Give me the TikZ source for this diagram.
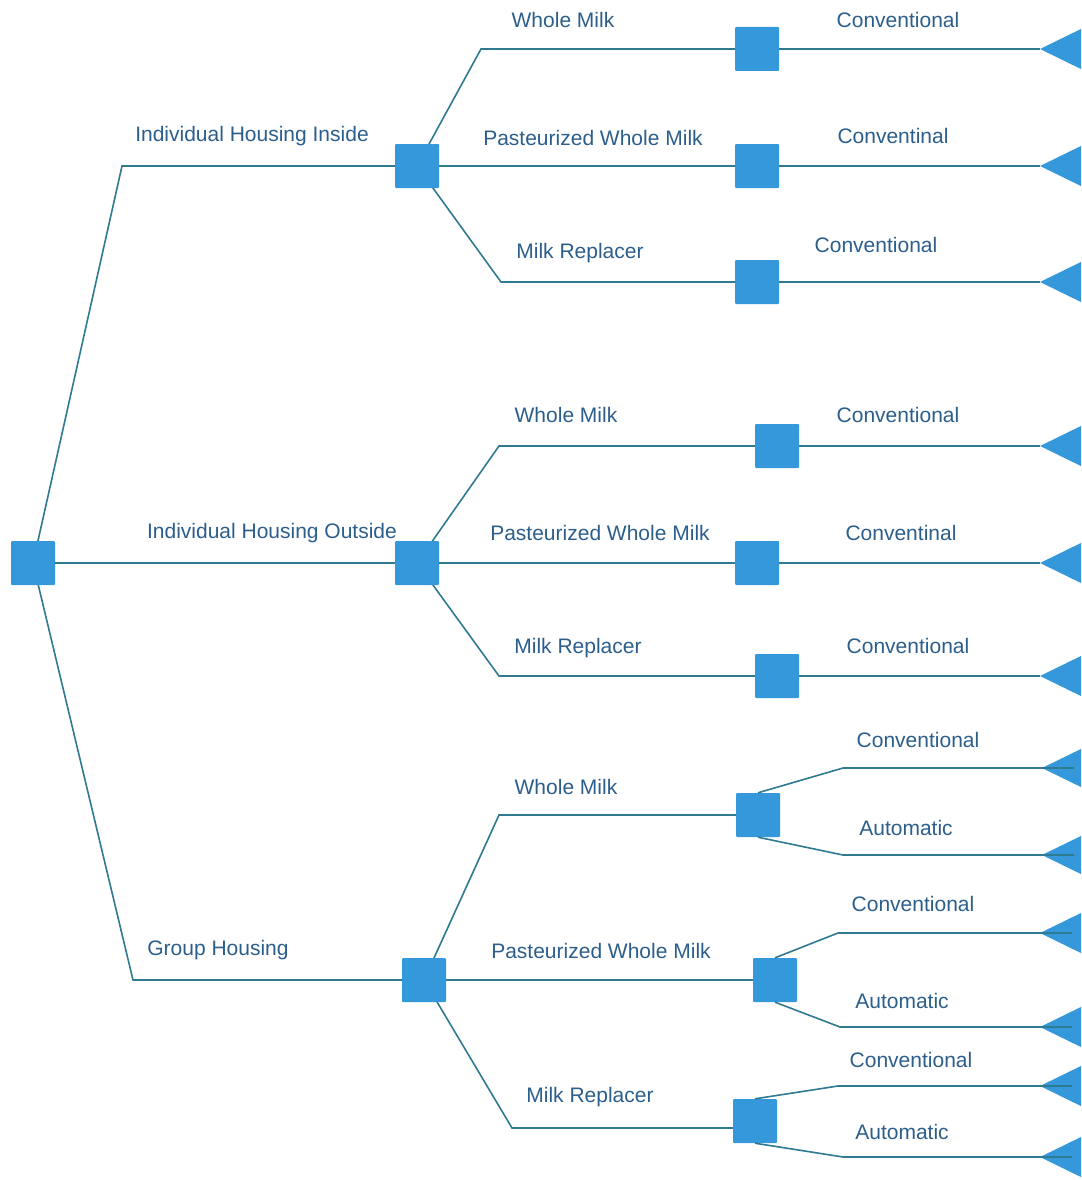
\documentclass[tikz,border=0pt]{standalone}
\usepackage{fontspec}
\setmainfont{Liberation Sans}
\usetikzlibrary{backgrounds}
\definecolor{boxblue}{RGB}{52,152,219}
\definecolor{linecol}{RGB}{47,122,145}
\definecolor{txtcol}{RGB}{44,94,140}
\tikzset{
  decbox/.style={draw=none,fill=boxblue,minimum size=44pt,inner sep=0pt,rounded corners=1pt},
  conn/.style={draw=linecol,line width=1.6pt},
  lbl/.style={text=txtcol,font=\fontsize{21}{25}\selectfont,inner sep=0pt},
  termtri/.style={fill=boxblue}
}
\begin{document}
\begin{tikzpicture}[x=1pt,y=1pt]
\useasboundingbox (0,0) rectangle (1081,-1180);
\clip (0,0) rectangle (1081,-1180);
% decision squares
\node[decbox] (R) at (33,-563) {};
\node[decbox] (A1) at (417,-166) {};
\node[decbox] (A2) at (417,-563) {};
\node[decbox] (A3) at (424,-980) {};
\node[decbox] (B11) at (757,-49) {};
\node[decbox] (B12) at (757,-166) {};
\node[decbox] (B13) at (757,-282) {};
\node[decbox] (B21) at (777,-446) {};
\node[decbox] (B22) at (757,-563) {};
\node[decbox] (B23) at (777,-676) {};
\node[decbox] (B31) at (758,-815) {};
\node[decbox] (B32) at (775,-980) {};
\node[decbox] (B33) at (755,-1121) {};
% terminal tips
\coordinate (T11) at (1040,-49);
\coordinate (T12) at (1040,-166);
\coordinate (T13) at (1040,-282);
\coordinate (T21) at (1040,-446);
\coordinate (T22) at (1040,-563);
\coordinate (T23) at (1040,-676);
\coordinate (T31a) at (1042,-768);
\coordinate (T31b) at (1042,-855);
\coordinate (T32a) at (1040,-933);
\coordinate (T32b) at (1040,-1027);
\coordinate (T33a) at (1040,-1086);
\coordinate (T33b) at (1040,-1157);
\foreach \t in {T11,T12,T13,T21,T22,T23,T31a,T31b,T32a,T32b,T33a,T33b}{
  \fill[termtri] (\t) -- ++(45,22) -- ++(0,-44) -- cycle;
}
\begin{pgfonlayer}{background}
% root branches
\draw[conn] (R.center) -- (122,-166) -- (A1.center);
\draw[conn] (R.center) -- (A2.center);
\draw[conn] (R.center) -- (133,-980) -- (A3.center);
% group 1
\draw[conn] (A1.center) -- (481,-49) -- (B11.center);
\draw[conn] (A1.center) -- (B12.center);
\draw[conn] (A1.center) -- (501,-282) -- (B13.center);
\draw[conn] (B11.center) -- (T11);
\draw[conn] (B12.center) -- (T12);
\draw[conn] (B13.center) -- (T13);
% group 2
\draw[conn] (A2.center) -- (499,-446) -- (B21.center);
\draw[conn] (A2.center) -- (B22.center);
\draw[conn] (A2.center) -- (499,-676) -- (B23.center);
\draw[conn] (B21.center) -- (T21);
\draw[conn] (B22.center) -- (T22);
\draw[conn] (B23.center) -- (T23);
% group 3
\draw[conn] (A3.center) -- (499,-815) -- (B31.center);
\draw[conn] (A3.center) -- (B32.center);
\draw[conn] (A3.center) -- (512,-1128) -- (B33.center |- 0,-1128);
\end{pgfonlayer}
\draw[conn] (B31.north) -- (843,-768) -- ([xshift=32pt]T31a);
\draw[conn] (B31.south) -- (843,-855) -- ([xshift=32pt]T31b);
\draw[conn] (B32.north) -- (838,-933) -- ([xshift=32pt]T32a);
\draw[conn] (B32.south) -- (840,-1027) -- ([xshift=32pt]T32b);
\draw[conn] (B33.north) -- (838,-1086) -- ([xshift=32pt]T33a);
\draw[conn] (B33.south) -- (843,-1157) -- ([xshift=32pt]T33b);
% labels
\node[lbl] (l1) at (252,-136) {Individual Housing Inside};
\node[lbl] (l2) at (272,-533) {Individual Housing Outside};
\node[lbl] (l3) at (218,-950) {Group Housing};
\node[lbl] (l11) at (563,-20) {Whole Milk};
\node[lbl] (l12) at (593,-138) {Pasteurized Whole Milk};
\node[lbl] (l13) at (580,-253) {Milk Replacer};
\node[lbl] (l21) at (566,-415) {Whole Milk};
\node[lbl] (l22) at (600,-533) {Pasteurized Whole Milk};
\node[lbl] (l23) at (578,-648) {Milk Replacer};
\node[lbl] (l31) at (566,-787) {Whole Milk};
\node[lbl] (l32) at (601,-951) {Pasteurized Whole Milk};
\node[lbl] (l33) at (590,-1097) {Milk Replacer};
\node[lbl] (c11) at (898,-20) {Conventional};
\node[lbl] (c12) at (893,-136) {Conventinal};
\node[lbl] (c13) at (876,-245) {Conventional};
\node[lbl] (c21) at (898,-415) {Conventional};
\node[lbl] (c22) at (901,-533) {Conventinal};
\node[lbl] (c23) at (908,-646) {Conventional};
\node[lbl] (c31a) at (918,-740) {Conventional};
\node[lbl] (c31b) at (906,-828) {Automatic};
\node[lbl] (c32a) at (913,-904) {Conventional};
\node[lbl] (c32b) at (902,-1001) {Automatic};
\node[lbl] (c33a) at (911,-1060) {Conventional};
\node[lbl] (c33b) at (902,-1132) {Automatic};
\end{tikzpicture}
\end{document}
